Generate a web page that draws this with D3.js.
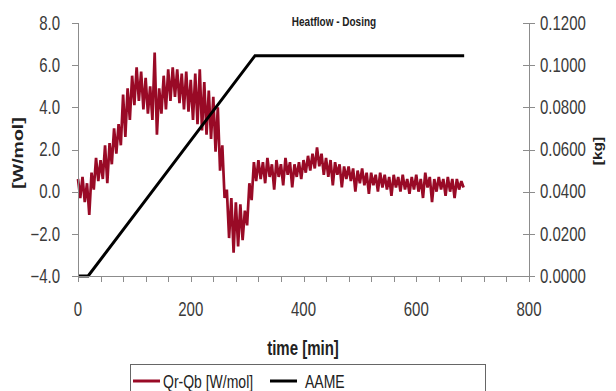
<!DOCTYPE html>
<html>
<head>
<meta charset="utf-8">
<script src="https://cdn.jsdelivr.net/npm/d3@7"></script>
<style>
  html, body { margin: 0; padding: 0; background: #fff; }
  svg { display: block; font-family: "Liberation Sans", Arial, sans-serif; }
</style>
</head>
<body>
<svg id="chart" width="616" height="391"></svg>
<script>
// Heat flow (Qr-Qb) sampled every 4 min from t = 0
const heatStart = 0;
const heatStep = 4;
const heatflow = [
  0.6, -0.3, 0.7, -0.5, 0.4, -1.1, 0.9, 0.1, 1.6, 0.5,
  1.5, 0.6, 2.2, 0.4, 2.3, 1.3, 3.0, 1.8, 3.2, 2.2,
  4.6, 2.6, 4.9, 3.4, 5.5, 4.1, 5.9, 4.3, 5.7, 3.9,
  5.4, 3.7, 5.0, 3.4, 6.6, 2.7, 4.9, 3.7, 5.5, 3.9,
  5.8, 4.3, 5.9, 4.5, 5.8, 4.2, 5.6, 3.9, 5.7, 3.8,
  5.3, 3.4, 5.6, 3.2, 5.8, 2.9, 5.2, 2.7, 4.8, 2.5,
  4.5, 1.9, 4.0, 1.0, 2.2, -0.3, 0.1, -2.2, -0.3, -2.9,
  -0.5, -2.6, -0.6, -2.3, -0.9, -1.6, 0.4, -0.4, 1.4, 0.5,
  1.5, 0.6, 1.4, 0.4, 1.6, 0.7, 1.3, 0.1, 1.5, 0.7,
  1.3, 0.3, 1.6, 0.8, 1.4, 0.2, 1.3, 0.7, 1.4, 0.6,
  1.5, 0.9, 1.7, 1.0, 1.8, 1.1, 2.1, 1.2, 1.8, 0.8,
  1.6, 0.7, 1.5, 0.3, 1.4, 0.8, 1.3, 0.2, 1.2, 0.6,
  1.2, 0.5, 1.1, 0.0, 1.0, 0.4, 1.1, 0.3, 0.9, -0.1,
  0.9, 0.3, 0.8, 0.0, 0.9, 0.2, 0.8, 0.1, 0.7, -0.2,
  0.8, 0.2, 0.7, 0.0, 0.8, 0.1, 0.6, -0.1, 0.7, 0.1,
  0.8, 0.0, 0.6, -0.3, 0.9, 0.2, 0.7, -0.5, 0.6, 0.0,
  0.7, 0.1, 0.6, -0.2, 0.7, 0.0, 0.6, -0.3, 0.6, 0.1,
  0.5, 0.2
];

// Dosed AAME mass [kg]
const doseTime = [0, 18, 314, 685];
const doseMass = [0, 0, 0.1045, 0.1045];

// Axis ticks
const timeTicks = [0, 200, 400, 600, 800];
const timeMinorStep = 40;
const heatTicks = [-4, -2, 0, 2, 4, 6, 8];
const massTicks = [0, 0.02, 0.04, 0.06, 0.08, 0.10, 0.12];

const seriesNames = ["Qr-Qb [W/mol]", "AAME"];
const seriesColors = ["#990a26", "#000000"];

const plot = { left: 78, right: 529, top: 23, bottom: 276 };
const textStretch = 1.3; // tall, narrow lettering
const axisColor = "#8c8c8c";
const labelColor = "#3a3a3a";

const svg = d3.select("#chart");

const x = d3.scaleLinear().domain([0, 800]).range([plot.left, plot.right]);
const yHeat = d3.scaleLinear().domain([-4, 8]).range([plot.bottom, plot.top]);
const yMass = d3.scaleLinear().domain([0, 0.12]).range([plot.bottom, plot.top]);

// Text helper: horizontal or rotated, stretched along the vertical of the page
function label(txt, px, py, opts) {
  const g = svg.append("g");
  let tf = `translate(${px},${py})`;
  if (opts.rotate) tf += ` rotate(-90) scale(${textStretch},1)`;
  else tf += ` scale(1,${textStretch})`;
  g.attr("transform", tf);
  g.append("text")
    .attr("text-anchor", opts.anchor || "middle")
    .attr("dominant-baseline", "central")
    .attr("font-size", opts.size)
    .attr("font-weight", opts.bold ? "bold" : "normal")
    .attr("fill", opts.color || labelColor)
    .text(txt);
}

// Series
const heatData = heatflow.map((v, i) => [heatStart + i * heatStep, v]);
svg.append("path")
  .datum(heatData)
  .attr("fill", "none")
  .attr("stroke", seriesColors[0])
  .attr("stroke-width", 2.7)
  .attr("stroke-linejoin", "miter")
  .attr("stroke-miterlimit", 2)
  .attr("d", d3.line().x(d => x(d[0])).y(d => yHeat(d[1])));

const doseData = doseTime.map((t, i) => [t, doseMass[i]]);
svg.append("path")
  .datum(doseData)
  .attr("fill", "none")
  .attr("stroke", seriesColors[1])
  .attr("stroke-width", 3)
  .attr("d", d3.line().x(d => x(d[0])).y(d => yMass(d[1])));

// Axes
const xAxis = d3.axisBottom(x)
  .tickValues(d3.range(0, 801, timeMinorStep))
  .tickSize(6).tickFormat("");
const gx = svg.append("g").attr("transform", `translate(0,${plot.bottom})`).call(xAxis);

const yAxisL = d3.axisLeft(yHeat).tickValues(heatTicks).tickSize(6).tickFormat("");
const gl = svg.append("g").attr("transform", `translate(${plot.left},0)`).call(yAxisL);

const yAxisR = d3.axisRight(yMass).tickValues(massTicks).tickSize(6).tickFormat("");
const gr = svg.append("g").attr("transform", `translate(${plot.right},0)`).call(yAxisR);
gr.selectAll(".tick line").attr("x1", -6);

[gx, gl, gr].forEach(g => {
  g.selectAll("path.domain").attr("stroke", axisColor).attr("shape-rendering", "crispEdges");
  g.selectAll(".tick line").attr("stroke", axisColor).attr("shape-rendering", "crispEdges");
});
gl.select("path.domain").attr("d", `M0.5,${plot.top}V${plot.bottom}`);
gr.select("path.domain").attr("d", `M0.5,${plot.top}V${plot.bottom}`);
gx.select("path.domain").attr("d", `M${plot.left},0.5H${plot.right}`);

// Tick labels
heatTicks.forEach(v => label(d3.format(".1f")(v), plot.left - 18, yHeat(v), { anchor: "end", size: 15 }));
massTicks.forEach(v => label(d3.format(".4f")(v), plot.right + 11, yMass(v), { anchor: "start", size: 15 }));
timeTicks.forEach(v => label(String(v), x(v), 309, { size: 15 }));

// Titles
label("Heatflow - Dosing", 334, 22, { size: 10, bold: true, color: "#222" });
label("time [min]", 303, 348, { size: 15, bold: true, color: "#222" });
label("[W/mol]", 18, 153, { size: 15, bold: true, rotate: true, color: "#222" });
label("[kg]", 598, 151, { size: 12, bold: true, rotate: true, color: "#222" });

// Legend
svg.append("rect")
  .attr("x", 130.5).attr("y", 364.5).attr("width", 355).attr("height", 40)
  .attr("fill", "#fff").attr("stroke", "#666");
const legendItems = [
  { x1: 133, x2: 160, tx: 163 },
  { x1: 270, x2: 297, tx: 305 }
];
legendItems.forEach((it, i) => {
  svg.append("line").attr("x1", it.x1).attr("x2", it.x2).attr("y1", 381).attr("y2", 381)
    .attr("stroke", seriesColors[i]).attr("stroke-width", 3);
  label(seriesNames[i], it.tx, 381, { anchor: "start", size: 14, color: "#222" });
});
</script>
</body>
</html>
